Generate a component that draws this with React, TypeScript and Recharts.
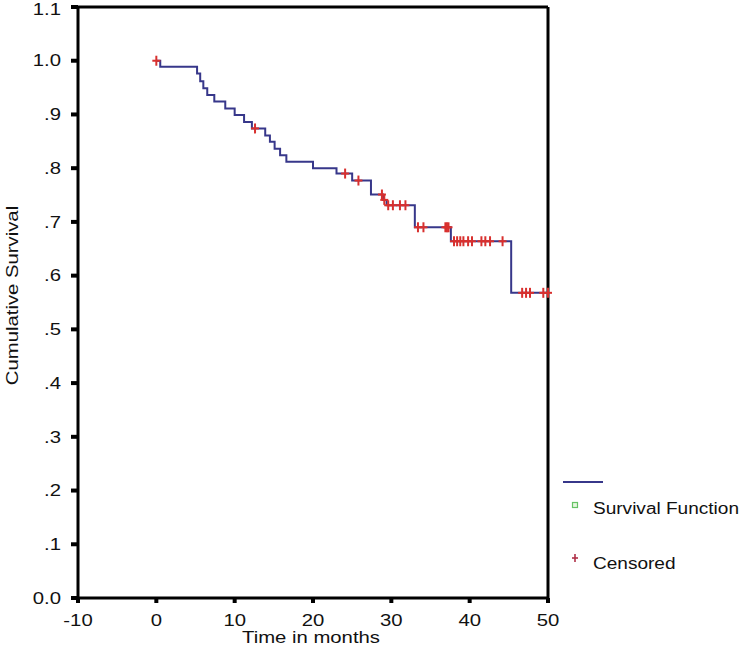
import React from "react";
import { ComposedChart, Line, Scatter, XAxis, YAxis, ReferenceLine, Legend, Label } from "recharts";

// Kaplan-Meier steps (time in months, cumulative survival)
const survTimes = [0, 0.5, 5.2, 5.6, 6.0, 6.5, 7.4, 8.8, 10.0, 11.2, 12.2, 13.9, 14.5, 15.1, 15.8, 16.6, 20.0, 23.0, 25.0, 27.4, 28.95, 29.4, 33.0, 37.6, 45.3, 50];
const survValues = [1.0, 0.989, 0.976, 0.962, 0.949, 0.936, 0.924, 0.911, 0.899, 0.886, 0.874, 0.861, 0.849, 0.836, 0.824, 0.812, 0.8, 0.79, 0.777, 0.751, 0.741, 0.731, 0.69, 0.664, 0.568, 0.568];

// censored observations
const censorTimes = [0, 12.6, 24.1, 25.8, 28.8, 29.1, 29.6, 30.2, 31.1, 31.8, 33.4, 34.1, 36.9, 37.1, 37.3, 38.0, 38.4, 38.8, 39.2, 39.8, 40.3, 41.5, 42.0, 42.6, 44.2, 46.7, 47.2, 47.7, 49.4, 50];
const censorValues = [1.0, 0.874, 0.79, 0.777, 0.751, 0.741, 0.731, 0.731, 0.731, 0.731, 0.69, 0.69, 0.69, 0.69, 0.69, 0.664, 0.664, 0.664, 0.664, 0.664, 0.664, 0.664, 0.664, 0.664, 0.664, 0.568, 0.568, 0.568, 0.568, 0.568];

const xTicks = [-10, 0, 10, 20, 30, 40, 50];
const yTicks = [0, 0.1, 0.2, 0.3, 0.4, 0.5, 0.6, 0.7, 0.8, 0.9, 1.0, 1.1];
const yTickLabels = ["0.0", ".1", ".2", ".3", ".4", ".5", ".6", ".7", ".8", ".9", "1.0", "1.1"];

const survData = survTimes.map((t, i) => ({ t, s: survValues[i] }));
const censorData = censorTimes.map((t, i) => ({ t, s: censorValues[i] }));

const FONT = "'Liberation Sans', Arial, sans-serif";
const STRETCH = 1.27;
const LEGEND_STRETCH = 1.19;
const LINE_COLOR = "#37378a";
const CENSOR_COLOR = "#d8302e";

function XTick(props: any) {
  const { x, y, payload } = props;
  return (
    <g transform={`translate(${x},${y + 2}) scale(${STRETCH},1)`}>
      <text x={0} y={0} dy="0.71em" textAnchor="middle" fontSize={16} fontFamily={FONT} fill="#111">
        {payload.value}
      </text>
    </g>
  );
}

function YTick(props: any) {
  const { x, y, payload } = props;
  const i = yTicks.findIndex((t) => Math.abs(t - payload.value) < 1e-6);
  return (
    <g transform={`translate(${x},${y}) scale(${STRETCH},1)`}>
      <text x={0} y={0} dy="0.36em" textAnchor="end" fontSize={16} fontFamily={FONT} fill="#111">
        {yTickLabels[i]}
      </text>
    </g>
  );
}

function Plus(props: any) {
  const { cx, cy } = props;
  if (cx == null || cy == null) return null;
  return (
    <g stroke={CENSOR_COLOR} strokeWidth={2}>
      <line x1={cx - 4} y1={cy} x2={cx + 4} y2={cy} />
      <line x1={cx} y1={cy - 5} x2={cx} y2={cy + 5} />
    </g>
  );
}

function LegendBox() {
  return (
    <svg width={182} height={110} style={{ display: "block" }}>
      <line x1={3} y1={12} x2={43} y2={12} stroke={LINE_COLOR} strokeWidth={2} />
      <rect x={12.5} y={32.5} width={5} height={5} fill="#e6f7df" stroke="#66c266" strokeWidth={1.2} />
      <g transform={`translate(33,38) scale(${LEGEND_STRETCH},1)`}>
        <text x={0} y={0} dy="0.36em" fontSize={16} fontFamily={FONT} fill="#111">Survival Function</text>
      </g>
      <g stroke="#b03048" strokeWidth={1.6}>
        <line x1={12} y1={88} x2={18} y2={88} />
        <line x1={15} y1={84} x2={15} y2={92} />
      </g>
      <g transform={`translate(33,93) scale(${LEGEND_STRETCH},1)`}>
        <text x={0} y={0} dy="0.36em" fontSize={16} fontFamily={FONT} fill="#111">Censored</text>
      </g>
    </svg>
  );
}

export default function App() {
  return (
    <div style={{ position: "absolute", left: 0, top: 0, width: 742, height: 656, background: "#fff", fontFamily: FONT }}>
      <ComposedChart width={742} height={656} margin={{ top: 7, right: 194, bottom: 8, left: 0 }}>
        <XAxis
          dataKey="t"
          type="number"
          domain={[-10, 50]}
          ticks={xTicks}
          height={50}
          axisLine={{ stroke: "#000", strokeWidth: 3 }}
          tickLine={{ stroke: "#000", strokeWidth: 4 }}
          tickSize={5}
          tickMargin={10}
          tick={<XTick />}
        >
          <Label
            content={(p: any) => {
              const vb = p.viewBox || { x: 78, y: 598, width: 470 };
              return (
                <g transform={`translate(${vb.x + vb.width / 2 - 2},${vb.y + 45}) scale(${STRETCH},1)`}>
                  <text x={0} y={0} textAnchor="middle" fontSize={16} fontFamily={FONT} fill="#111">Time in months</text>
                </g>
              );
            }}
          />
        </XAxis>
        <YAxis
          dataKey="s"
          type="number"
          domain={[0, 1.1]}
          ticks={yTicks}
          width={78}
          axisLine={{ stroke: "#000", strokeWidth: 3 }}
          tickLine={{ stroke: "#000", strokeWidth: 4 }}
          tickSize={7}
          tickMargin={10}
          tick={<YTick />}
        >
          <Label
            content={(p: any) => {
              const vb = p.viewBox || { x: 0, y: 7, height: 591 };
              return (
                <g transform={`translate(18,${vb.y + vb.height / 2 - 7}) rotate(-90) scale(${STRETCH},1)`}>
                  <text x={0} y={0} textAnchor="middle" fontSize={16} fontFamily={FONT} fill="#111">Cumulative Survival</text>
                </g>
              );
            }}
          />
        </YAxis>
        <ReferenceLine y={1.1} stroke="#000" strokeWidth={3} />
        <ReferenceLine x={50} stroke="#000" strokeWidth={3} />
        <Line
          data={survData}
          dataKey="s"
          type="stepAfter"
          stroke={LINE_COLOR}
          strokeWidth={2}
          dot={false}
          activeDot={false}
          isAnimationActive={false}
        />
        <Scatter data={censorData} dataKey="s" shape={<Plus />} isAnimationActive={false} />
        <Legend
          layout="vertical"
          align="center"
          verticalAlign="middle"
          wrapperStyle={{ position: "absolute", left: 560, top: 470, width: 182, height: 110 }}
          content={<LegendBox />}
        />
      </ComposedChart>
    </div>
  );
}
